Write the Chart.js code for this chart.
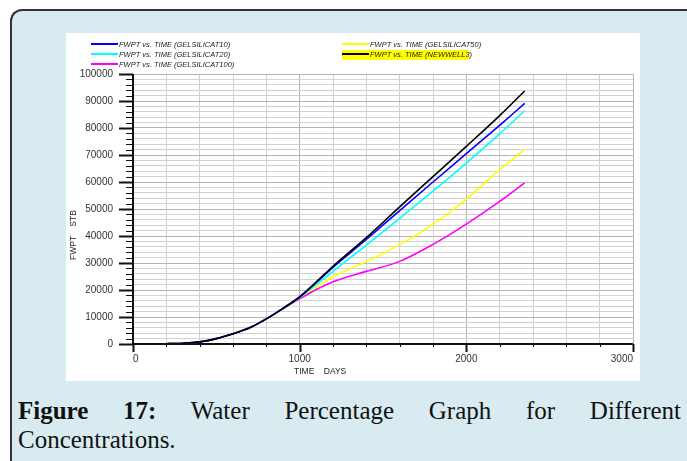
<!DOCTYPE html>
<html>
<head>
<meta charset="utf-8">
<script src="https://cdn.jsdelivr.net/npm/chart.js@4"></script>
<style>
  html, body { margin: 0; padding: 0; background: #fff; }
  body { width: 687px; height: 461px; position: relative; overflow: hidden; font-family: "Liberation Sans", Arial, sans-serif; }
  #frame {
    position: absolute; left: 10px; top: 9px; width: 700px; height: 470px;
    background: #d7ebf0; border-left: 2px solid #333; border-top: 2px solid #333;
    border-top-left-radius: 12px;
  }
  #panel { position: absolute; left: 66px; top: 33px; width: 574px; height: 348px; background: #fff; }
  #plot { position: absolute; left: 66px; top: 33px; }
  .leg { position: absolute; height: 10px; font: italic 7.5px "Liberation Sans", Arial, sans-serif; color: #222; white-space: nowrap; }
  .leg i { display: inline-block; width: 27px; height: 2px; vertical-align: middle; margin-right: 1px; position: relative; top: -1px; }
  .leg.hl { background: #ffff00; }
  .axt { position: absolute; font: 8.5px "Liberation Sans", Arial, sans-serif; color: #222; white-space: pre; }
  #cap {
    position: absolute; left: 18px; top: 396px; width: 663px;
    font: 25px/29px "Liberation Serif", "DejaVu Serif", serif; color: #111;
    word-spacing: 4px; text-align: justify; text-align-last: left;
  }
</style>
</head>
<body>
<div id="frame"></div>
<div id="panel"></div>
<canvas id="plot" width="576" height="348"></canvas>
<div id="legend"></div>
<div class="axt" style="left:294px; top:366px;">TIME    DAYS</div>
<div class="axt" style="left:48px; top:230px; transform: rotate(-90deg); transform-origin: center;">FWPT    STB</div>
<div id="cap"><b>Figure 17:</b> Water Percentage Graph for Different Concentrations.</div>

<script>
// simulation output, cumulative water production (STB) against time (days)
const days = [0, 100, 200, 300, 400, 500, 600, 700, 800, 900, 1000, 1100, 1200, 1400, 1600, 1800, 2000, 2200, 2350];

const gel10  = [0, 0, 100, 300, 800, 2000, 3800, 6000, 9300, 13200, 17400, 22800, 28400, 38700, 49400, 60000, 70500, 81000, 89100];
const gel20  = [0, 0, 100, 300, 800, 2000, 3800, 6000, 9300, 13200, 17200, 22000, 26900, 36600, 46500, 56600, 67000, 77800, 86400];
const gel100 = [0, 0, 100, 300, 800, 2000, 3800, 6000, 9300, 13100, 16700, 20200, 23100, 26900, 30600, 36900, 44400, 52800, 59700];
const gel50  = [0, 0, 100, 300, 800, 2000, 3800, 6000, 9300, 13100, 16900, 21000, 24900, 30500, 36800, 44300, 53700, 64500, 72100];
const newwell3 = [0, 0, 100, 300, 800, 2000, 3800, 6000, 9300, 13200, 17500, 23000, 28800, 39400, 50800, 62000, 73200, 84600, 93700];

const seriesNames = [
  "FWPT vs. TIME (GELSILICAT10)",
  "FWPT vs. TIME (GELSILICAT20)",
  "FWPT vs. TIME (GELSILICAT100)",
  "FWPT vs. TIME (GELSILICAT50)",
  "FWPT vs. TIME (NEWWELL3)"
];
const seriesValues = [gel10, gel20, gel100, gel50, newwell3];
const seriesColors = ["#0000ff", "#00ffff", "#ff00ff", "#ffff00", "#000000"];

const xTicks = [0, 1000, 2000, 3000];
const yTicks = [0, 10000, 20000, 30000, 40000, 50000, 60000, 70000, 80000, 90000, 100000];

// legend: two columns, the last entry sits on a yellow highlight
const legendSpots = [[91, 40], [91, 50], [91, 60], [342, 40], [342, 50]];
const legend = document.getElementById("legend");
seriesNames.forEach((name, i) => {
  const el = document.createElement("div");
  el.className = "leg" + (i === 4 ? " hl" : "");
  el.style.left = legendSpots[i][0] + "px";
  el.style.top = legendSpots[i][1] + "px";
  if (i === 4) el.style.width = "127px";
  el.innerHTML = '<i style="background:' + seriesColors[i] + '"></i>' + name;
  legend.appendChild(el);
});

// tick marks drawn on the outside of both axes, longer at labelled values
const tickMarks = {
  id: "tickMarks",
  afterDraw(chart) {
    const { ctx, chartArea: a, scales: { x, y } } = chart;
    ctx.save();
    ctx.strokeStyle = "#111";
    for (let v = 0; v <= 100000; v += 2000) {
      const py = Math.round(y.getPixelForValue(v)) + 0.5;
      const major = yTicks.includes(v);
      ctx.lineWidth = major ? 2 : 1;
      ctx.beginPath();
      ctx.moveTo(a.left - (major ? 14 : 7), py);
      ctx.lineTo(a.left, py);
      ctx.stroke();
    }
    for (let v = 0; v <= 3000; v += 200) {
      const px = Math.round(x.getPixelForValue(v)) + 0.5;
      const major = xTicks.includes(v);
      ctx.lineWidth = major ? 2 : 1;
      ctx.beginPath();
      ctx.moveTo(px, a.bottom);
      ctx.lineTo(px, a.bottom + (major ? 8 : 3));
      ctx.stroke();
    }
    ctx.lineWidth = 2;
    ctx.beginPath();
    ctx.moveTo(a.left, a.top);
    ctx.lineTo(a.left, a.bottom);
    ctx.lineTo(a.right, a.bottom);
    ctx.stroke();
    ctx.restore();
  }
};

new Chart(document.getElementById("plot"), {
  type: "line",
  data: {
    datasets: seriesNames.map((name, i) => ({
      label: name,
      data: days.map((d, k) => ({ x: d, y: seriesValues[i][k] })),
      borderColor: seriesColors[i],
      borderWidth: 1.6,
      pointRadius: 0,
      cubicInterpolationMode: "monotone",
      order: i === 4 ? 0 : 1
    }))
  },
  options: {
    responsive: false,
    animation: false,
    layout: { padding: { left: 0, right: 1, top: 41, bottom: 0 } },
    plugins: { legend: { display: false }, tooltip: { enabled: false } },
    scales: {
      x: {
        type: "linear",
        min: 0,
        max: 3000,
        afterFit: s => { s.height = 37; },
        border: { display: false },
        grid: {
          drawTicks: false,
          color: c => (c.tick && c.tick.value % 1000 === 0 ? "#b4b4b4" : "#d2d2d2")
        },
        ticks: {
          stepSize: 200,
          autoSkip: false,
          maxRotation: 0,
          align: "inner",
          padding: 9,
          color: "#333",
          font: { family: "Liberation Sans", size: 10 },
          callback: v => (xTicks.includes(v) ? String(v) : "")
        }
      },
      y: {
        min: 0,
        max: 100000,
        afterFit: s => { s.width = 67; },
        border: { display: false },
        grid: {
          drawTicks: false,
          color: c => (c.tick && c.tick.value % 10000 === 0 ? "#b4b4b4" : "#d2d2d2")
        },
        ticks: {
          stepSize: 2000,
          autoSkip: false,
          padding: 20,
          color: "#333",
          font: { family: "Liberation Sans", size: 10 },
          callback: v => (yTicks.includes(v) ? String(v) : "")
        }
      }
    }
  },
  plugins: [tickMarks]
});
</script>
</body>
</html>
